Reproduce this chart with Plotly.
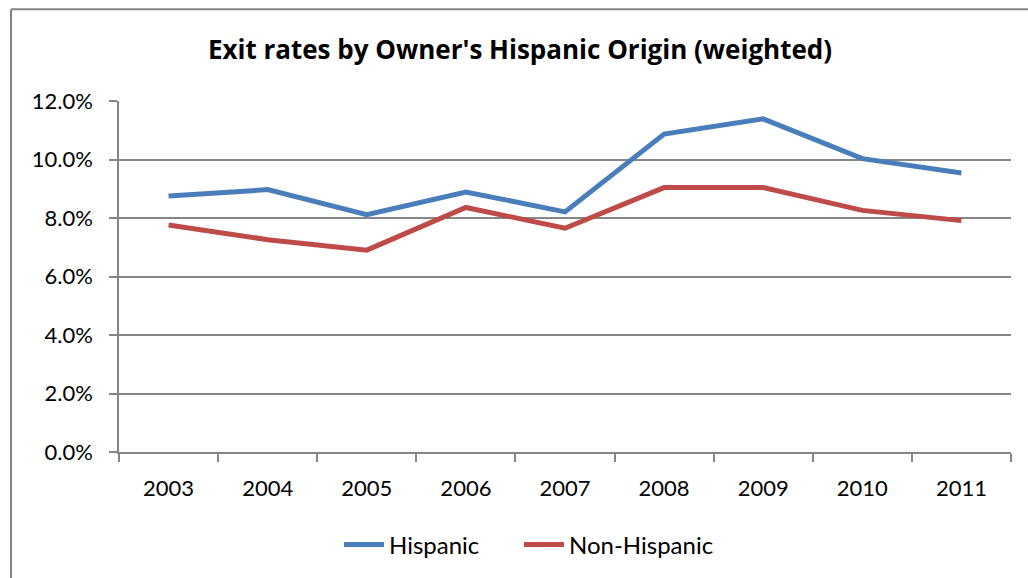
import plotly.graph_objects as go

years = ["2003", "2004", "2005", "2006", "2007", "2008", "2009", "2010", "2011"]
hispanic = [8.75, 8.97, 8.11, 8.89, 8.21, 10.87, 11.39, 10.03, 9.54]
non_hispanic = [7.76, 7.26, 6.90, 8.36, 7.65, 9.04, 9.04, 8.26, 7.91]

BLUE = "#4A7EBB"
RED = "#BE4B48"
GRID = "#868686"
FONT = "Lato"

fig = go.Figure()
fig.add_trace(go.Scatter(x=years, y=hispanic, mode="lines", name="Hispanic",
                         line=dict(color=BLUE, width=5), legend="legend"))
fig.add_trace(go.Scatter(x=years, y=non_hispanic, mode="lines", name="Non-Hispanic",
                         line=dict(color=RED, width=5), legend="legend2"))

ml, mr, mt, mb = 119, 17, 101, 125
W, H = 1028, 578
pw, ph = W - ml - mr, H - mt - mb

def px_x(px):
    return (px - ml) / pw

def px_y(py):
    return (H - mb - py) / ph

legend_common = dict(orientation="h", y=px_y(545), yanchor="middle",
                     xanchor="left",
                     font=dict(family=FONT, size=24, color="black"),
                     itemwidth=40, bgcolor="rgba(0,0,0,0)")

fig.update_layout(
    width=W, height=H,
    margin=dict(l=ml, r=mr, t=mt, b=mb, pad=0),
    paper_bgcolor="white", plot_bgcolor="white",
    font=dict(family=FONT, size=22, color="black"),
    title=dict(text="<b>Exit rates by Owner's Hispanic Origin (weighted)</b>",
               x=520 / W, xanchor="center", xref="container",
               y=1 - 50 / H, yanchor="middle", yref="container",
               font=dict(family="Open Sans", size=26, color="black")),
    showlegend=True,
    legend=dict(x=px_x(339), **legend_common),
    legend2=dict(x=px_x(519), **legend_common),
    xaxis=dict(type="category", range=[-0.5, 8.5], showgrid=False,
               ticks="outside", ticklen=8, tickcolor=GRID, tickwidth=1.5,
               ticklabelstandoff=16,
               showline=True, linecolor=GRID, linewidth=1.5,
               tickson="boundaries", fixedrange=True,
               tickfont=dict(family=FONT, size=22)),
    yaxis=dict(range=[0, 12], dtick=2, tickformat=".1f", ticksuffix="%",
               showgrid=True, gridcolor=GRID, gridwidth=1.5,
               zeroline=False, showline=True, linecolor=GRID, linewidth=1.5,
               ticks="outside", ticklen=8, tickcolor=GRID, tickwidth=1.5,
               ticklabelstandoff=12, fixedrange=True,
               tickfont=dict(family=FONT, size=22)),
    shapes=[
        dict(type="line", xref="paper", yref="paper",
             x0=px_x(11), x1=px_x(11), y0=px_y(600), y1=px_y(9),
             line=dict(color=GRID, width=2)),
        dict(type="line", xref="paper", yref="paper",
             x0=px_x(11), x1=px_x(1100), y0=px_y(9), y1=px_y(9),
             line=dict(color=GRID, width=2)),
    ],
)

fig.write_html("out.html", config={"displayModeBar": False},
               post_script="document.body.style.margin='0px';")
